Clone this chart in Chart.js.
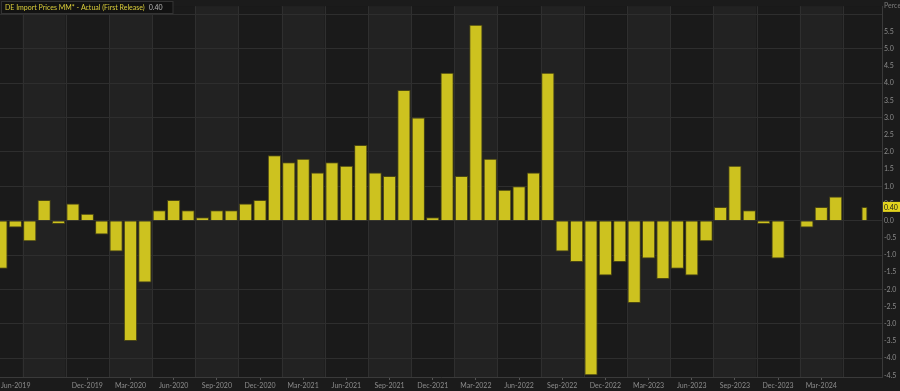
<!DOCTYPE html>
<html><head><meta charset="utf-8">
<script src="https://cdn.jsdelivr.net/npm/chart.js@4.4.1/dist/chart.umd.min.js"></script>
<style>html,body{margin:0;padding:0;background:#1b1b1b;overflow:hidden}#wrap{width:900px;height:391px;position:relative}</style>
</head><body><div id="wrap"><canvas id="c"></canvas></div>
<script>
const months = [
 'Jun-2019','Jul-2019','Aug-2019','Sep-2019','Oct-2019','Nov-2019','Dec-2019',
 'Jan-2020','Feb-2020','Mar-2020','Apr-2020','May-2020','Jun-2020','Jul-2020','Aug-2020','Sep-2020','Oct-2020','Nov-2020','Dec-2020',
 'Jan-2021','Feb-2021','Mar-2021','Apr-2021','May-2021','Jun-2021','Jul-2021','Aug-2021','Sep-2021','Oct-2021','Nov-2021','Dec-2021',
 'Jan-2022','Feb-2022','Mar-2022','Apr-2022','May-2022','Jun-2022','Jul-2022','Aug-2022','Sep-2022','Oct-2022','Nov-2022','Dec-2022',
 'Jan-2023','Feb-2023','Mar-2023','Apr-2023','May-2023','Jun-2023','Jul-2023','Aug-2023','Sep-2023','Oct-2023','Nov-2023','Dec-2023',
 'Jan-2024','Feb-2024','Mar-2024','Apr-2024','May-2024','Jun-2024'
];
const values = [
 -1.4,-0.2,-0.6,0.6,-0.1,0.5,0.2,
 -0.4,-0.9,-3.5,-1.8,0.3,0.6,0.3,0.1,0.3,0.3,0.5,0.6,
 1.9,1.7,1.8,1.4,1.7,1.6,2.2,1.4,1.3,3.8,3.0,0.1,
 4.3,1.3,5.7,1.8,0.9,1.0,1.4,4.3,-0.9,-1.2,-4.5,-1.6,
 -1.2,-2.4,-1.1,-1.7,-1.4,-1.6,-0.6,0.4,1.6,0.3,-0.1,-1.1,
 null,-0.2,0.4,0.7,null,0.4
];
const tickMonths = ['Jun-2019','Dec-2019','Mar-2020','Jun-2020','Sep-2020','Dec-2020','Mar-2021','Jun-2021','Sep-2021','Dec-2021','Mar-2022','Jun-2022','Sep-2022','Dec-2022','Mar-2023','Jun-2023','Sep-2023','Dec-2023','Mar-2024'];
const yTicks = [-4.5,-4.0,-3.5,-3.0,-2.5,-2.0,-1.5,-1.0,-0.5,0.0,0.5,1.0,1.5,2.0,2.5,3.0,3.5,4.0,4.5,5.0,5.5,6.0];
const seriesName = 'DE Import Prices MM* - Actual (First Release)';
const latestText = '0.40';
const unitText = 'Percent';
const bandStartMonths = ['Feb','May','Aug','Nov'];

const FONT = 'Lato, "Open Sans", sans-serif';
const FS = 7;
const lastIdx = values.length - 1;
const mainData = values.slice(0, lastIdx).map((v, i) => ({x: i, y: v}));
const latestData = [{x: lastIdx, y: values[lastIdx]}];
const tickIdx = tickMonths.map(m => months.indexOf(m)).concat([lastIdx]);

const bgPlugin = {
  id: 'bg',
  beforeDraw(chart) {
    const {ctx, chartArea: a, scales: {x}} = chart;
    ctx.save();
    ctx.fillStyle = '#1b1b1b';
    ctx.fillRect(0, 0, chart.width, chart.height);
    const bounds = [];
    for (let i = 0; i < months.length; i++) {
      if (bandStartMonths.includes(months[i].slice(0,3))) {
        const p = x.getPixelForValue(i - 0.5);
        if (p > a.left && p < a.right) bounds.push(p);
      }
    }
    const edges = [a.left].concat(bounds, [a.right]);
    for (let k = 0; k < edges.length - 1; k++) {
      ctx.fillStyle = (k % 2 === 1) ? '#222222' : '#1a1a1a';
      ctx.fillRect(edges[k], a.top, edges[k+1] - edges[k], a.bottom - a.top);
    }
    ctx.strokeStyle = '#2f2f2f';
    ctx.lineWidth = 1;
    bounds.forEach(p => {
      const px = Math.round(p) + 0.5;
      ctx.beginPath(); ctx.moveTo(px, a.top); ctx.lineTo(px, a.bottom); ctx.stroke();
    });
    ctx.restore();
  }
};

const overlayPlugin = {
  id: 'overlay',
  afterDraw(chart) {
    const {ctx, chartArea: a, scales: {y}} = chart;
    ctx.save();
    ctx.font = FS + 'px ' + FONT;
    ctx.textBaseline = 'middle';
    const tw = ctx.measureText(seriesName).width;
    const vw = ctx.measureText(latestText).width;
    const bx = 1, by = 1, bh = 12;
    const bw = 4 + tw + 4 + vw + 10;
    ctx.fillStyle = '#121212';
    ctx.fillRect(bx, by, bw, bh);
    ctx.strokeStyle = '#333333';
    ctx.strokeRect(bx + 0.5, by + 0.5, bw, bh);
    ctx.fillStyle = '#dccf3a';
    ctx.textAlign = 'left';
    ctx.fillText(seriesName, bx + 4, by + bh / 2 + 0.5);
    ctx.fillStyle = '#b8b8b8';
    ctx.fillText(latestText, bx + 4 + tw + 4, by + bh / 2 + 0.5);
    ctx.fillStyle = '#7a7a7a';
    ctx.fillText(unitText, a.right + 2, 6);
    const yp = y.getPixelForValue(values[lastIdx]);
    ctx.fillStyle = '#e3d41e';
    ctx.fillRect(a.right + 1, yp - 5, chart.width - a.right - 1, 10);
    ctx.fillStyle = '#1a1a1a';
    ctx.fillText(latestText, a.right + 2, yp + 0.5);
    ctx.restore();
  }
};

new Chart(document.getElementById('c'), {
  type: 'bar',
  data: {
    datasets: [
      {label: seriesName, data: mainData, backgroundColor: '#cdc21f', borderColor: '#4a4614', borderWidth: 1,
       barPercentage: 0.92, categoryPercentage: 1, grouped: false},
      {label: seriesName + ' latest', data: latestData, backgroundColor: '#cdc21f', borderColor: '#4a4614', borderWidth: 1,
       barPercentage: 0.42, categoryPercentage: 1, grouped: false}
    ]
  },
  options: {
    responsive: true, maintainAspectRatio: false, animation: false,
    layout: {padding: {top: 2, left: 0, right: 0, bottom: 0}},
    plugins: {legend: {display: false}, tooltip: {enabled: false}},
    scales: {
      x: {
        type: 'linear', min: -0.067, max: 61.22, offset: false,
        afterBuildTicks: s => { s.ticks = tickIdx.map(v => ({value: v})); },
        afterFit: s => { s.height = 14; s.paddingLeft = 0; s.paddingRight = 0; },
        ticks: {
          autoSkip: false, maxRotation: 0, minRotation: 0, align: 'inner',
          color: '#8c8c8c', font: {family: FONT, size: FS}, padding: 2,
          callback: v => tickMonths.includes(months[v]) ? months[v] : ''
        },
        grid: {
          offset: false, drawOnChartArea: false, drawTicks: true, tickLength: 3,
          color: c => (c.tick && c.tick.label && c.index !== 0) ? '#555555' : 'rgba(0,0,0,0)'
        },
        border: {color: '#3a3a3a'}
      },
      y: {
        type: 'linear', position: 'right', min: -4.55, max: 6.24,
        afterBuildTicks: s => { s.ticks = yTicks.map(v => ({value: v})); },
        afterFit: s => { s.width = 18; },
        ticks: {
          color: '#8c8c8c', font: {family: FONT, size: FS}, padding: 2,
          callback: v => v >= 6 ? '' : Number(v).toFixed(1)
        },
        grid: {
          drawTicks: false,
          color: c => (c.tick && Number.isInteger(c.tick.value)) ? '#2e2e2e' : 'rgba(0,0,0,0)'
        },
        border: {color: '#3a3a3a'}
      }
    }
  },
  plugins: [bgPlugin, overlayPlugin]
});
</script>
</body></html>
